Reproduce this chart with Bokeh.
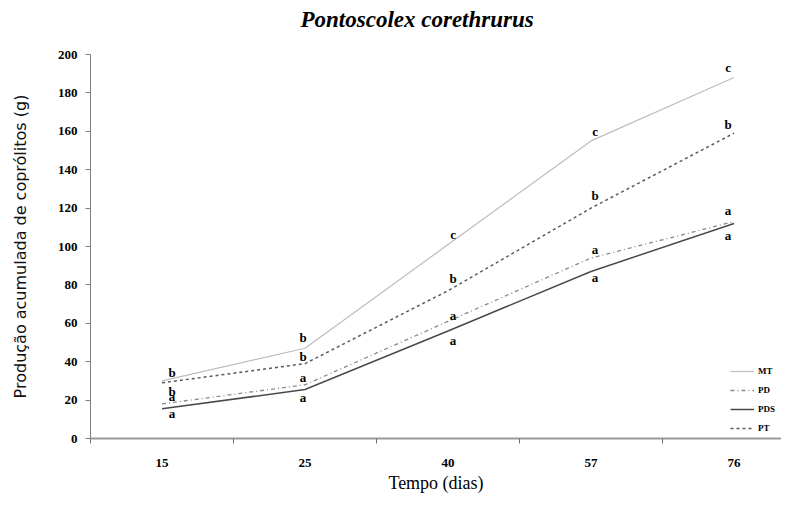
import numpy as np
from bokeh.plotting import figure
from bokeh.models import Range1d, FixedTicker, ColumnDataSource, Legend, LegendItem, Title
from bokeh.core.properties import value
from bokeh.embed import file_html
from bokeh.resources import INLINE

# ---- data ----
days = ["15", "25", "40", "57", "76"]
mt = [30, 47, 101, 155, 188]
pd_ = [18, 28, 61, 94, 113]
pds = [15.5, 25.5, 56, 87, 112]
pt = [29, 39, 77, 120, 159]

mt_letters = ["b", "b", "c", "c", "c"]
pd_letters = ["a", "a", "a", "a", "a"]
pds_letters = ["a", "a", "a", "a", "a"]
pt_letters = ["b", "b", "b", "b", "b"]

title_text = "Pontoscolex corethrurus"

# letter offsets in screen pixels (style only)
mt_dy = [-8, -11, -10, -9, -10]
pd_dy = [-7, -7, -6, -9, -11]
pds_dy = [5, 8, 10, 6, 12]
pt_dy = [9, -7, -12, -13, -9]
letter_dx = [10, -2, 5, 4, -6]

serif = "Times New Roman"
sans = "DejaVu Sans"

x = np.arange(len(days)) + 0.5

p = figure(width=781, height=495, output_backend="svg", toolbar_location=None,
           x_range=Range1d(0, 4.832), y_range=Range1d(0, 200),
           min_border_left=90, min_border_right=0, min_border_top=54, min_border_bottom=53)
p.outline_line_color = None
p.xgrid.grid_line_color = None
p.ygrid.grid_line_color = None
p.background_fill_color = "white"

# visible title (outermost)
p.title.text = title_text
p.title.text_font = serif
p.title.text_font_style = "bold italic"
p.title.text_font_size = "23px"
p.title.text_color = "black"
p.title.align = "left"
p.title.offset = 210
p.title.standoff = 7

# blank spacer between title and frame
spacer = Title(text=" ", text_font_size="12px", standoff=3)
p.add_layout(spacer, "above")

# x axis
xa = p.xaxis[0]
xa.ticker = FixedTicker(ticks=list(x), minor_ticks=list(range(len(days))))
xa.major_label_overrides = {float(v): d for v, d in zip(x, days)}
xa.major_tick_line_color = None
xa.major_tick_out = 0
xa.major_tick_in = 0
xa.minor_tick_line_color = "#707070"
xa.minor_tick_out = 5
xa.minor_tick_in = 0
xa.axis_line_color = "#999999"
xa.axis_line_width = 2
xa.major_label_standoff = 15
xa.major_label_text_font = serif
xa.major_label_text_font_style = "bold"
xa.major_label_text_font_size = "13px"
xa.major_label_text_color = "black"
xa.axis_label = "Tempo (dias)"
xa.axis_label_text_font = serif
xa.axis_label_text_font_style = "normal"
xa.axis_label_text_font_size = "18px"
xa.axis_label_text_color = "black"
xa.axis_label_standoff = 3

# y axis
ya = p.yaxis[0]
ya.ticker = FixedTicker(ticks=list(range(0, 201, 20)))
ya.minor_tick_line_color = None
ya.major_tick_out = 5
ya.major_tick_in = 0
ya.major_tick_line_color = "#808080"
ya.axis_line_color = "#808080"
ya.major_label_standoff = 8
ya.major_label_text_font = serif
ya.major_label_text_font_style = "bold"
ya.major_label_text_font_size = "13px"
ya.major_label_text_color = "black"
ya.axis_label = "Produção acumulada de coprólitos (g)"
ya.axis_label_text_font = sans
ya.axis_label_text_font_style = "normal"
ya.axis_label_text_font_size = "16px"
ya.axis_label_text_color = "#111111"
ya.axis_label_standoff = 25

r_mt = p.line(x, mt, line_color="#bdbdbd", line_width=1.2)
r_pd = p.line(x, pd_, line_color="#8a8a8a", line_width=1.3, line_dash="4 3 1 3")
r_pds = p.line(x, pds, line_color="#4a4a4a", line_width=1.5)
r_pt = p.line(x, pt, line_color="#5a5a5a", line_width=1.5, line_dash="3 3")

for vals, letters, dy in [(mt, mt_letters, mt_dy), (pd_, pd_letters, pd_dy),
                          (pds, pds_letters, pds_dy), (pt, pt_letters, pt_dy)]:
    src = ColumnDataSource(dict(x=x, y=vals, t=letters, dy=dy, dx=letter_dx))
    p.text(x="x", y="y", text="t", source=src, x_offset="dx", y_offset="dy",
           text_font=value(serif), text_font_style="bold", text_font_size="13px",
           text_align="center", text_baseline="middle", text_color="black")

legend = Legend(items=[LegendItem(label="MT", renderers=[r_mt]),
                       LegendItem(label="PD", renderers=[r_pd]),
                       LegendItem(label="PDS", renderers=[r_pds]),
                       LegendItem(label="PT", renderers=[r_pt])],
                location=(640, 2))
legend.border_line_color = None
legend.background_fill_alpha = 0
legend.padding = 0
legend.margin = 0
legend.spacing = 3
legend.glyph_width = 24
legend.glyph_height = 16
legend.label_height = 16
legend.label_standoff = 4
legend.label_text_font = serif
legend.label_text_font_style = "bold"
legend.label_text_font_size = "9px"
legend.label_text_color = "black"
p.add_layout(legend, "center")

open("out.html", "w").write(file_html(p, INLINE))
